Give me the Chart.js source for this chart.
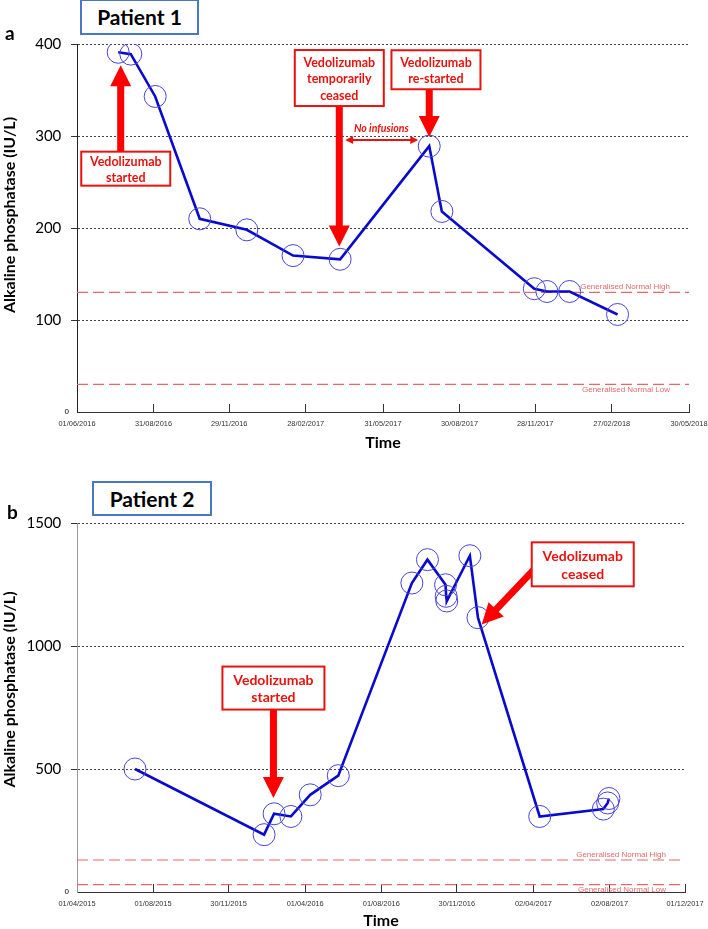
<!DOCTYPE html>
<html><head><meta charset="utf-8">
<script src="https://cdn.jsdelivr.net/npm/chart.js@4.4.1/dist/chart.umd.min.js"></script>
<style>
html,body{margin:0;padding:0;background:#fff;}
body{width:708px;height:929px;position:relative;overflow:hidden;font-family:Lato,"Open Sans",sans-serif;}
canvas{position:absolute;left:0;}
#c1{top:0;} #c2{top:460px;}
.pbox{position:absolute;box-sizing:border-box;border:2px solid #4A76C6;background:#fff;font-weight:700;font-size:21px;color:#000;text-align:center;}
.lab{position:absolute;font-weight:700;font-size:19px;color:#000;}
</style></head>
<body>
<canvas id="c1" width="708" height="460"></canvas>
<canvas id="c2" width="708" height="469"></canvas>
<div class="pbox" style="left:80px;top:-1px;width:119px;height:36px;line-height:32px;">Patient 1</div>
<div class="lab" style="left:5px;top:21px;">a</div>
<div class="pbox" style="left:92px;top:481px;width:120px;height:35px;line-height:31px;">Patient 2</div>
<div class="lab" style="left:7px;top:500px;">b</div>
<script>
// ---------------- DATA ----------------
// Patient 1
const p1Dates = ['2016-07-20','2016-08-04','2016-09-02','2016-10-25','2016-12-20','2017-02-13','2017-04-10','2017-07-25','2017-08-09','2017-11-27','2017-12-12','2018-01-08','2018-03-06'];
const p1Alp   = [391, 389, 343, 210, 198, 170, 166, 289, 218, 134, 131, 131, 106];
const p1XTicks = ['2016-06-01','2016-08-31','2016-11-29','2017-02-28','2017-05-31','2017-08-30','2017-11-28','2018-02-27','2018-05-30'];
const p1YTicks = [0, 100, 200, 300, 400];
// Patient 2
const p2Dates = ['2015-07-03','2016-01-26','2016-02-11','2016-03-09','2016-04-09','2016-05-24','2016-09-19','2016-10-14','2016-11-12','2016-11-13','2016-11-14','2016-12-21','2017-01-03','2017-04-12','2017-07-23','2017-07-30','2017-08-01'];
const p2Alp   = [500, 233, 318, 307, 395, 473, 1256, 1351, 1249, 1202, 1183, 1367, 1115, 307, 337, 362, 380];
const p2XTicks = ['2015-04-01','2015-08-01','2015-11-30','2016-04-01','2016-08-01','2016-11-30','2017-04-02','2017-08-02','2017-12-01'];
const p2YTicks = [0, 500, 1000, 1500];
// Reference range
const normalHigh = 130;
const normalLow = 30;
const normalHighLabel = 'Generalised Normal High';
const normalLowLabel = 'Generalised Normal Low';
const yTitle = 'Alkaline phosphatase (IU/L)';
const xTitle = 'Time';

// ---------------- ANNOTATIONS (anchored in data coordinates) ----------------
const p1Notes = {
  arrows: [
    {from:['2016-07-23',265], to:['2016-07-23',377]},
    {from:['2017-04-09',363], to:['2017-04-09',180]},
    {from:['2017-07-25',372], to:['2017-07-25',299]}
  ],
  boxes: [
    {at:['2016-07-29',264.5], w:89, h:34, lines:['Vedolizumab','started'], size:12.5, lh:16},
    {at:['2017-04-09',363], w:89, h:56, lines:['Vedolizumab','temporarily','ceased'], size:12.5, lh:16.5},
    {at:['2017-08-02',372], w:89, h:39, lines:['Vedolizumab','re-started'], size:12.5, lh:16}
  ],
  spans: [
    {from:['2017-04-16',295.6], to:['2017-07-12',295.6], label:'No infusions', labelAt:['2017-05-29',307.6]}
  ],
  yTitleShift: -13
};
const p2Notes = {
  arrows: [
    {from:['2016-02-10',829], to:['2016-02-10',382]},
    {from:['2017-04-10',1330], to:['2017-01-09',1087]}
  ],
  boxes: [
    {at:['2016-02-10',829], w:102, h:43, lines:['Vedolizumab','started'], size:14, lh:17.5},
    {at:['2017-06-20',1332], w:102, h:44, lines:['Vedolizumab','ceased'], size:14, lh:17.5}
  ],
  spans: [],
  yTitleShift: -18
};

// ---------------- HELPERS ----------------
function ms(s){const [y,m,d]=s.split('-').map(Number);return Date.UTC(y,m-1,d);}
function fmt(v){const d=new Date(v);const p=n=>String(n).padStart(2,'0');return p(d.getUTCDate())+'/'+p(d.getUTCMonth()+1)+'/'+d.getUTCFullYear();}
const RED='#E8120E', BLUE='#0A0ACF', PT='#4545DE', REF='#E36A6A';

function arrowPoly(ctx,x1,y1,x2,y2,sw,hw,hl,color){
  const dx=x2-x1, dy=y2-y1, L=Math.hypot(dx,dy), ux=dx/L, uy=dy/L, nx=-uy, ny=ux;
  const bx=x2-ux*hl, by=y2-uy*hl;
  ctx.beginPath();
  ctx.moveTo(x1+nx*sw/2, y1+ny*sw/2);
  ctx.lineTo(bx+nx*sw/2, by+ny*sw/2);
  ctx.lineTo(bx+nx*hw/2, by+ny*hw/2);
  ctx.lineTo(x2,y2);
  ctx.lineTo(bx-nx*hw/2, by-ny*hw/2);
  ctx.lineTo(bx-nx*sw/2, by-ny*sw/2);
  ctx.lineTo(x1-nx*sw/2, y1-ny*sw/2);
  ctx.closePath(); ctx.fillStyle=color; ctx.fill();
}

const notesPlugin = {
  id:'notes',
  afterDatasetsDraw(chart){
    const o = chart.options.plugins.notes; if(!o) return;
    const ctx = chart.ctx, xs = chart.scales.x, ys = chart.scales.y, ca = chart.chartArea;
    const P = a => [xs.getPixelForValue(ms(a[0])), ys.getPixelForValue(a[1])];
    ctx.save();
    // reference-range labels
    ctx.font = '8px "Liberation Sans", Arial, sans-serif';
    ctx.fillStyle = REF; ctx.textAlign='right'; ctx.textBaseline='middle';
    ctx.fillText(normalHighLabel, ca.right-19, ys.getPixelForValue(normalHigh)-5.5);
    ctx.fillText(normalLowLabel, ca.right-19, ys.getPixelForValue(normalLow)+5);
    // arrows
    o.arrows.forEach(a=>{const [x1,y1]=P(a.from),[x2,y2]=P(a.to);arrowPoly(ctx,x1,y1,x2,y2,7,21,21,'#FF0000');});
    // spans (double arrow)
    o.spans.forEach(s=>{
      const [x1,y1]=P(s.from),[x2,y2]=P(s.to);
      ctx.strokeStyle=RED; ctx.fillStyle=RED; ctx.lineWidth=2;
      ctx.beginPath(); ctx.moveTo(x1+6,y1); ctx.lineTo(x2-6,y2); ctx.stroke();
      ctx.beginPath(); ctx.moveTo(x1,y1); ctx.lineTo(x1+8,y1-4); ctx.lineTo(x1+8,y1+4); ctx.closePath(); ctx.fill();
      ctx.beginPath(); ctx.moveTo(x2,y2); ctx.lineTo(x2-8,y2-4); ctx.lineTo(x2-8,y2+4); ctx.closePath(); ctx.fill();
      const [lx,ly]=P(s.labelAt);
      ctx.font='italic 700 10.5px Lato, sans-serif'; ctx.textAlign='center'; ctx.textBaseline='middle';
      ctx.fillText(s.label,lx,ly);
    });
    // boxes
    o.boxes.forEach(b=>{
      const [cx,cy]=P(b.at);
      ctx.fillStyle='#fff'; ctx.fillRect(cx-b.w/2,cy-b.h/2,b.w,b.h);
      ctx.strokeStyle=RED; ctx.lineWidth=2; ctx.strokeRect(cx-b.w/2,cy-b.h/2,b.w,b.h);
      ctx.fillStyle=RED; ctx.font='700 '+b.size+'px Lato, sans-serif'; ctx.textAlign='center'; ctx.textBaseline='middle';
      const n=b.lines.length;
      b.lines.forEach((t,i)=>ctx.fillText(t,cx,cy+(i-(n-1)/2)*b.lh+1));
    });
    // y-axis title
    ctx.translate(10,(ca.top+ca.bottom)/2+o.yTitleShift);
    ctx.rotate(-Math.PI/2);
    ctx.fillStyle='#000'; ctx.font='700 16px Lato, sans-serif'; ctx.textAlign='center'; ctx.textBaseline='middle';
    ctx.fillText(yTitle,0,0);
    ctx.restore();
  }
};

function makeChart(id, dates, vals, xt, yt, notes, geo){
  const xmin = ms(xt[0]), xmax = ms(xt[xt.length-1]);
  const ymax = yt[yt.length-1];
  return new Chart(document.getElementById(id), {
    type:'line',
    data:{datasets:[
      {data:dates.map((d,i)=>({x:ms(d),y:vals[i]})), borderColor:BLUE, borderWidth:2.6, tension:0,
       pointRadius:11, pointHoverRadius:11, pointBorderWidth:1, pointBorderColor:PT, pointBackgroundColor:'rgba(0,0,0,0)'},
      {data:[{x:xmin,y:normalHigh},{x:xmax,y:normalHigh}], borderColor:REF, borderWidth:1.2, borderDash:[11,5], pointRadius:0},
      {data:[{x:xmin,y:normalLow},{x:xmax,y:normalLow}], borderColor:REF, borderWidth:1.2, borderDash:[11,5], pointRadius:0}
    ]},
    options:{
      responsive:false, animation:false, events:[],
      layout:{padding:{top:geo.top, right:geo.right, left:0, bottom:0}},
      plugins:{legend:{display:false}, tooltip:{enabled:false}, notes:notes},
      scales:{
        x:{type:'linear', min:xmin, max:xmax,
           afterBuildTicks:s=>{s.ticks=xt.map(d=>({value:ms(d)}));},
           afterFit:s=>{s.height=geo.xh; s.paddingLeft=0; s.paddingRight=0;},
           border:{display:true, color:'#333', width:1},
           grid:{drawOnChartArea:false, drawTicks:true, tickLength:-8, tickColor:'#333', lineWidth:1},
           ticks:{autoSkip:false, maxRotation:0, minRotation:0, padding:16, color:'#333',
                  font:{family:'"Liberation Sans", Arial, sans-serif', size:7.4}, callback:v=>fmt(v)},
           title:{display:true, text:xTitle, color:'#000', font:{family:'Lato', weight:'700', size:16, lineHeight:1}, padding:{top:0,bottom:geo.tpb}}
        },
        y:{type:'linear', min:0, max:ymax,
           afterBuildTicks:s=>{s.ticks=yt.map(v=>({value:v}));},
           afterFit:s=>{s.width=77; s.paddingTop=0; s.paddingBottom=0;},
           border:{display:true, color:geo.ycol, width:1, dash:[2,2]},
           grid:{color:c=>c.tick&&c.tick.value===0?'rgba(0,0,0,0)':'#444', lineWidth:1, drawTicks:true, tickLength:6,
                 tickColor:c=>c.tick&&c.tick.value===0?'rgba(0,0,0,0)':'#333', tickBorderDash:[]},
           ticks:{padding:2, color:'#000', callback:v=>v===0?'0':v+'  ',
                  font:c=>c.tick&&c.tick.value===0?{family:'"Liberation Sans", Arial, sans-serif',size:8}:{family:'Lato',size:15}}
        }
      }
    },
    plugins:[notesPlugin]
  });
}

makeChart('c1', p1Dates, p1Alp, p1XTicks, p1YTicks, p1Notes, {top:44, right:19, xh:48, tpb:9, ycol:'#222'});
makeChart('c2', p2Dates, p2Alp, p2XTicks, p2YTicks, p2Notes, {top:63, right:23, xh:37, tpb:0, ycol:'#999'});
</script>
</body></html>
